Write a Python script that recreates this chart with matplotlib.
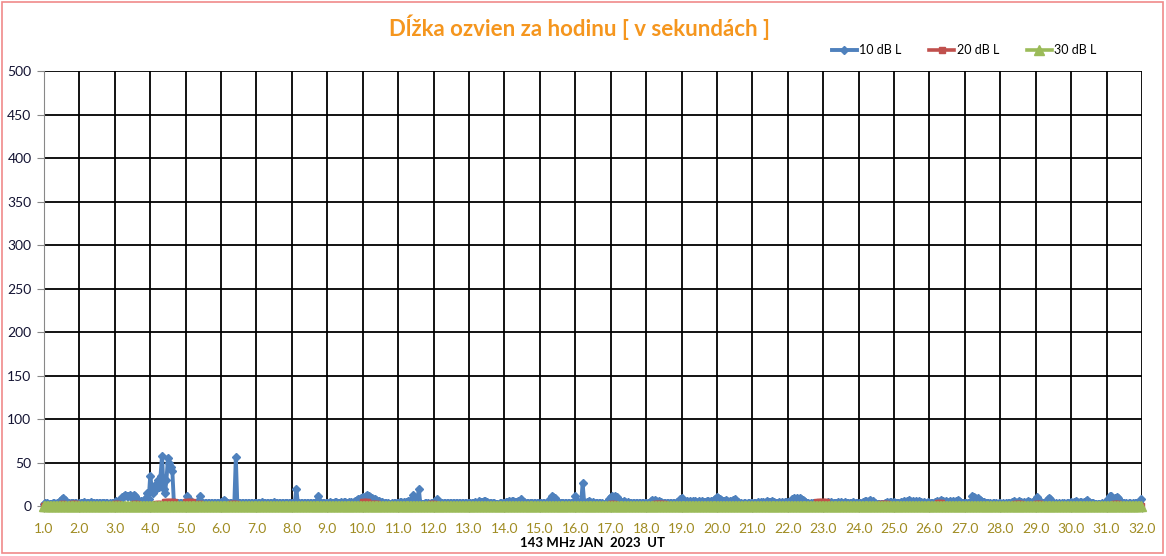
import numpy as np
import matplotlib
matplotlib.use("Agg")
import matplotlib.pyplot as plt
from matplotlib.patches import Rectangle

# hourly echo durations, one string of 24 values per day (January 2023)
blue_days = [
    "2 3 3 2 2 2 3 3 2 3 4 6 8 9 7 5 3 3 4 3 3 3 3 2",
    "3 3 4 5 3 3 3 4 5 4 3 3 3 4 3 3 3 4 3 3 2 3 4 4",
    "5 6 5 6 8 10 12 13 11 12 13 10 12 13 11 8 6 5 6 5 7 9 15 8",
    "35 22 15 18 25 30 22 35 58 20 15 30 55 50 45 40 5 3 3 3 4 3 4 3",
    "3 11 8 5 3 3 3 4 5 5 12 4 3 3 3 4 3 3 4 3 3 4 3 3",
    "5 6 7 6 4 3 3 3 3 4 56 4 3 3 3 4 3 3 4 3 3 3 4 3",
    "4 3 3 4 5 4 3 3 4 3 3 4 5 4 3 3 3 4 3 3 3 4 3 3",
    "3 4 4 20 4 3 3 3 4 3 3 3 3 4 3 3 4 6 12 5 4 3 3 3",
    "4 4 5 4 4 5 5 4 4 5 4 5 5 4 4 5 5 4 5 6 7 8 8 9",
    "10 9 11 13 12 10 9 8 8 7 6 6 5 5 4 3 3 3 2 2 3 3 4 3",
    "4 5 5 4 5 5 5 6 6 7 13 6 5 6 20 3 2 2 3 3 3 2 3 3",
    "4 6 8 6 5 4 3 4 3 3 4 3 3 4 3 3 3 3 3 4 3 3 3 3",
    "3 4 3 4 5 4 3 6 5 5 6 6 5 4 4 3 4 3 2 2 2 3 3 3",
    "4 5 5 6 5 6 6 5 5 6 5 8 6 5 4 4 3 4 4 3 3 3 3 4",
    "3 4 3 3 4 3 5 8 11 10 9 7 5 4 3 4 3 4 3 4 4 3 4 5",
    "11 6 5 4 4 26 5 4 5 6 5 4 5 4 3 4 3 4 3 2 2 3 5 8",
    "10 11 10 11 10 8 6 5 4 6 5 4 5 4 3 3 4 3 3 4 3 3 3 3",
    "4 3 4 6 7 6 7 6 5 6 5 4 4 3 4 3 4 3 3 4 4 5 6 8",
    "9 7 6 5 6 5 6 5 6 6 5 5 6 5 6 5 5 6 6 5 6 6 7 8",
    "10 9 8 7 6 6 7 6 5 6 6 7 8 6 5 4 3 2 3 3 2 3 3 3",
    "4 3 4 4 5 4 5 5 4 5 6 5 5 6 5 5 4 4 5 4 5 4 5 5",
    "5 5 6 8 9 8 9 8 9 8 7 6 5 3 3 2 3 3 3 2 3 3 3 3",
    "4 3 4 5 4 5 4 3 4 4 5 4 5 4 4 5 4 3 4 4 5 4 3 4",
    "4 3 3 5 6 6 5 6 7 5 6 4 2 2 2 2 2 2 3 5 4 5 5 4",
    "5 4 3 3 4 5 5 6 5 6 7 6 5 6 5 6 5 6 5 4 5 4 4 5",
    "4 3 3 4 5 6 5 6 7 6 5 6 5 5 6 5 6 5 6 7 6 5 4 4",
    "3 3 4 4 5 11 10 9 8 9 7 6 5 5 4 3 3 3 2 3 3 3 2 3",
    "3 2 3 2 3 3 3 4 5 6 5 4 5 6 5 4 5 4 5 6 5 4 5 6",
    "8 10 7 5 4 3 4 5 8 9 8 5 3 2 3 2 3 2 3 3 2 3 3 4",
    "5 4 5 6 5 4 5 5 4 5 6 7 5 4 3 3 2 2 2 2 2 3 2 3",
    "5 8 12 11 9 8 9 10 9 6 5 4 3 3 2 3 3 2 3 3 3 4 5 8",
]

red_days = [
    "0 0 0 0 0 0 0 0 0 0 0 0 2 2 0 0 0 0 0 2 2 2 2 0",
    "0 0 0 0 0 0 0 0 0 0 0 0 0 0 0 0 0 0 0 0 0 0 0 0",
    "2 2 2 0 0 0 0 0 0 0 0 0 0 2 2 2 0 0 0 0 0 0 0 0",
    "0 0 0 0 2 2 2 2 0 0 5 5 5 5 5 5 5 0 0 0 0 0 0 0",
    "5 5 5 5 5 0 0 0 0 2 2 0 0 0 0 0 0 0 0 0 0 0 0 0",
    "0 0 0 0 0 0 0 2 2 2 2 0 0 0 0 0 0 0 0 0 0 0 0 0",
    "0 0 0 0 0 0 0 0 0 0 0 0 0 0 0 0 0 0 0 0 0 0 0 0",
    "0 0 0 0 0 0 0 0 0 0 0 0 0 0 0 0 0 0 0 0 0 0 0 0",
    "0 0 0 0 0 0 0 0 0 0 0 0 0 0 0 0 0 0 0 0 0 0 0 0",
    "5 5 5 5 2 2 2 2 2 2 2 0 0 0 0 0 0 0 0 0 0 0 0 0",
    "0 0 0 0 0 0 0 0 0 0 0 0 0 0 0 0 0 0 0 0 0 0 2 2",
    "2 0 0 0 0 0 0 0 0 0 0 0 0 0 0 0 0 0 0 0 0 0 0 0",
    "0 0 0 0 0 0 0 0 0 0 0 0 0 0 0 0 0 0 0 0 0 0 0 0",
    "0 0 0 0 0 0 0 0 0 0 0 0 0 0 0 0 0 0 0 0 0 0 0 0",
    "0 0 0 0 0 0 0 0 0 0 0 0 0 0 0 0 0 0 0 0 0 0 0 0",
    "0 0 0 0 0 0 0 0 0 0 0 0 0 0 0 0 0 0 0 0 0 0 0 0",
    "2 2 2 0 0 0 0 0 0 0 0 0 0 0 0 0 0 0 0 0 0 0 0 0",
    "0 0 0 0 0 0 2 2 2 2 2 2 2 0 0 0 0 0 0 0 0 0 0 0",
    "0 0 0 0 0 0 0 0 0 0 0 0 0 0 0 0 0 0 0 0 0 0 0 0",
    "0 0 0 0 0 0 0 0 0 0 0 0 0 0 0 0 0 0 0 0 0 0 0 0",
    "0 0 0 0 0 0 0 0 0 0 0 0 0 0 0 0 0 0 0 0 0 0 0 0",
    "0 0 0 0 0 0 0 0 0 0 0 0 0 0 0 0 0 0 0 0 5 5 5 5",
    "5 5 5 0 0 0 0 0 0 0 0 0 0 0 0 0 0 0 0 0 0 0 0 0",
    "0 0 0 0 0 0 0 0 0 0 0 0 0 0 0 2 2 2 2 2 0 0 0 0",
    "0 0 0 0 0 0 0 0 0 0 0 0 0 0 0 0 0 0 0 0 0 0 0 0",
    "0 0 0 0 0 0 3 3 3 0 0 0 0 0 0 0 0 0 0 0 0 0 0 0",
    "0 0 0 0 0 0 0 0 0 0 0 0 0 0 0 0 0 0 0 0 0 0 0 0",
    "0 0 0 0 0 0 0 0 0 0 2 2 2 2 2 0 0 0 0 0 0 0 0 0",
    "2 2 2 2 0 0 0 0 0 0 0 0 0 0 0 0 0 0 0 0 0 0 0 0",
    "0 0 0 0 0 0 0 0 0 0 0 0 0 0 0 0 0 0 0 0 0 0 0 0",
    "0 0 0 0 0 2 2 2 2 0 0 0 0 0 0 0 0 0 0 0 0 0 0 0",
]

# 30 dB L stays at zero the whole month
green_days = ["0 0 0 0 0 0 0 0 0 0 0 0 0 0 0 0 0 0 0 0 0 0 0 0"] * 31

series_labels = ["10 dB L", "20 dB L", "30 dB L"]
x_ticks = list(range(1, 33))
y_ticks = list(range(0, 501, 50))


def parse(days):
    vals = []
    for d in days:
        vals += [float(v) for v in d.split()]
    return np.array(vals)


def main():
    blue = parse(blue_days)
    red = parse(red_days)
    green = parse(green_days)
    x = 1 + np.arange(len(blue)) / 24.0

    fig = plt.figure(figsize=(11.66, 5.56), dpi=100)
    ax = fig.add_axes([0.0377, 0.0899, 0.9417, 0.7824])

    ax.plot(x, blue, '-', color='#4F81BD', lw=2.8, marker='D', ms=4,
            label=series_labels[0], zorder=3, clip_on=False)
    ax.plot(x, red, '-', color='#C0504D', lw=2.6, marker='s', ms=4.5,
            label=series_labels[1], zorder=4, clip_on=False)
    ax.plot(x, green, '-', color='#9BBB59', lw=2.6, marker='^', ms=6.5,
            label=series_labels[2], zorder=5, clip_on=False)

    ax.set_xlim(1, 32)
    ax.set_ylim(0, 500)
    ax.set_xticks(x_ticks)
    ax.set_xticklabels(['%.1f' % t for t in x_ticks])
    ax.set_yticks(y_ticks)
    ax.grid(True, color='black', lw=1.3)
    ax.set_axisbelow(True)

    for s in ['top', 'right']:
        ax.spines[s].set_visible(False)
    ax.spines['left'].set_color('#888888')
    ax.spines['bottom'].set_color('#888888')

    ax.tick_params(axis='x', colors='#888888', labelcolor='#A08C22',
                   labelsize=10, length=4, pad=8)
    ax.tick_params(axis='y', colors='#888888', labelcolor='#141433',
                   labelsize=10, length=5, pad=4)
    for lab in ax.get_xticklabels() + ax.get_yticklabels():
        lab.set_family(['Lato', 'DejaVu Sans'])

    ax.set_xlabel('143 MHz JAN  2023  UT', fontsize=9.5, fontweight='bold',
                  family=['Lato', 'DejaVu Sans'], labelpad=2)

    fig.text(0.497, 0.951, 'Dĺžka ozvien za hodinu [ v sekundách ]',
             ha='center', va='center', color='#F5961E', fontsize=16,
             fontweight='bold', family=['Lato', 'DejaVu Sans'])

    ax.legend(loc='center', bbox_to_anchor=(0.827, 0.91),
              bbox_transform=fig.transFigure, ncol=3, frameon=False,
              handlelength=2.0, columnspacing=2.2, handletextpad=0.2,
              prop={'family': ['Lato', 'DejaVu Sans'], 'size': 9})

    fig.patches.append(Rectangle((0.002, 0.006), 0.995, 0.991,
                                 transform=fig.transFigure, fill=False,
                                 edgecolor='#F08A8A', lw=1.2))

    fig.savefig('out.png', dpi=100)


if __name__ == "__main__":
    main()
